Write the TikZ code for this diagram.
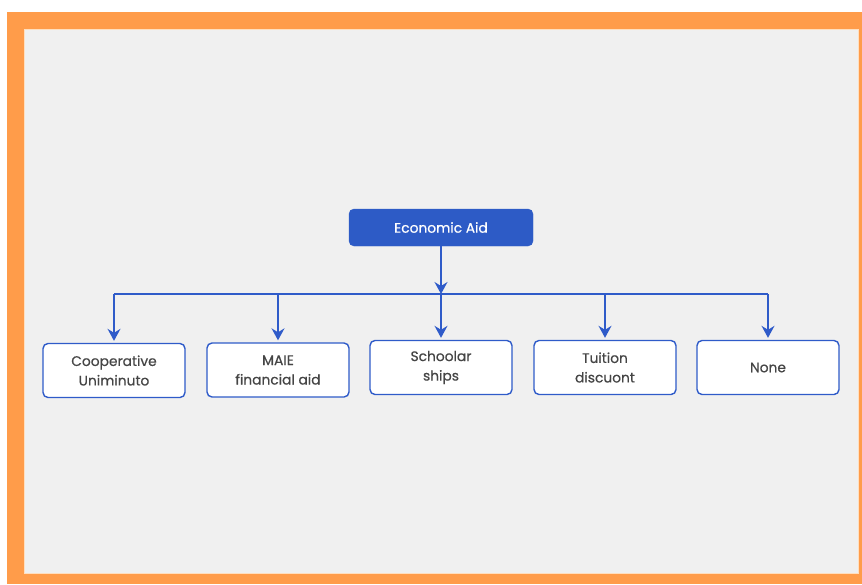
\documentclass[tikz,border=0pt]{standalone}
\usepackage{fontspec}
\setmainfont{Poppins}
\newfontfamily\labelfont[FakeBold=0.6]{Poppins}
\usetikzlibrary{arrows.meta,calc}
\definecolor{frameorange}{HTML}{FF9C4A}
\definecolor{panelgrey}{HTML}{F0F0F0}
\definecolor{linkblue}{HTML}{2F5BC9}
\definecolor{rootblue}{HTML}{2D5BC6}
\definecolor{textgrey}{HTML}{454545}
\tikzset{
  leafbox/.style={draw=linkblue, line width=1.4pt, fill=white, rounded corners=5pt,
    minimum width=142pt, minimum height=54pt, inner sep=0pt,
    align=center, text=textgrey, font=\labelfont\fontsize{13.8}{19.5}\selectfont},
  rootbox/.style={fill=rootblue, draw=rootblue, rounded corners=5pt,
    minimum width=184pt, minimum height=37pt, inner sep=0pt,
    text=white, font=\labelfont\fontsize{13.8}{16}\selectfont},
  link/.style={draw=linkblue, line width=1.4pt},
  arr/.style={link, -{Stealth[length=12pt,width=13pt,inset=4pt]}}
}
\begin{document}
\begin{tikzpicture}[x=1pt,y=-1pt]
  \useasboundingbox (0,0) rectangle (862,584);
  \fill[white] (0,0) rectangle (862,584);
  \fill[frameorange] (7,12) rectangle (862,584);
  \fill[panelgrey, draw=orange!25, line width=0.8pt] (24,29) rectangle (858,573);
  \node[rootbox] (root) at (441,227.5) {Economic Aid};
  \node[leafbox] (b1) at (114,370.5) {Cooperative\\Uniminuto};
  \node[leafbox] (b2) at (278,370) {MAIE\\financial aid};
  \node[leafbox] (b3) at (441,367.5) {Schoolar\\ships};
  \node[leafbox] (b4) at (605,367.5) {Tuition\\discuont};
  \node[leafbox] (b5) at (768,367.5) {None};
  \coordinate (bus) at (441,294);
  \draw[arr] (root.south) -- (root.south |- bus);
  \draw[link] (b1.north |- bus) -- (b5.north |- bus);
  \foreach \b in {b1,b2,b3,b4,b5}{
    \draw[arr, shorten >=2pt] (\b.north |- bus) -- (\b.north);
  }
\end{tikzpicture}
\end{document}
